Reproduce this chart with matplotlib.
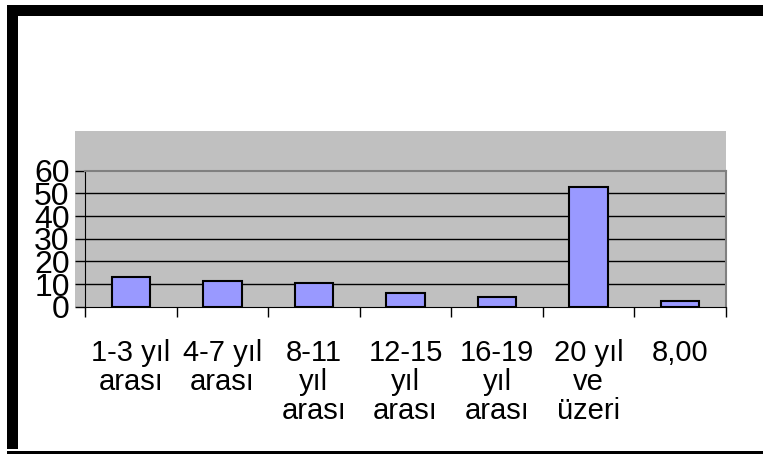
import matplotlib.pyplot as plt
from matplotlib.patches import Rectangle

# data
categories = ["1-3 yıl\narası", "4-7 yıl\narası", "8-11\nyıl\narası",
              "12-15\nyıl\narası", "16-19\nyıl\narası", "20 yıl\nve\nüzeri", "8,00"]
values = [13.1, 11.3, 10.4, 6.0, 4.4, 52.9, 2.5]
yticks = [0, 10, 20, 30, 40, 50, 60]

plt.rcParams['font.family'] = ['Liberation Sans', 'DejaVu Sans']

W, H = 763, 454
fig = plt.figure(figsize=(W / 100, H / 100), dpi=100)

# thick black frame, cut off at the right and bottom edges
frame = dict(transform=fig.transFigure, facecolor='black', edgecolor='none', zorder=0)
fig.patches.append(Rectangle((7 / W, 5 / H), 11 / W, (H - 10) / H, **frame))      # left
fig.patches.append(Rectangle((7 / W, 1 - 16 / H), (W - 7) / W, 11 / H, **frame))  # top
fig.patches.append(Rectangle((7 / W, 0), (W - 7) / W, 3 / H, **frame))            # bottom

# grey plot-area background that reaches above the axes
fig.patches.append(Rectangle((75 / W, 1 - 307 / H), 651 / W, 176 / H,
                             transform=fig.transFigure, facecolor='#c0c0c0',
                             edgecolor='none', zorder=0))

ax = fig.add_axes([85 / W, 1 - 306.7 / H, 641 / W, 136 / H])
ax.set_zorder(2)
ax.set_facecolor('#c0c0c0')

x = range(len(values))
ax.bar(x, values, width=0.42, color='#9999ff', edgecolor='black', linewidth=1.5, zorder=3)

ax.set_xlim(-0.5, len(values) - 0.5)
ax.set_ylim(0, 60)
ax.set_yticks(yticks)
ax.set_yticklabels([str(v) for v in yticks], fontsize=23)
for v in yticks[1:-1]:
    ax.axhline(v, color='black', linewidth=1, zorder=1)

# category boundaries get the tick marks, labels sit in between
ax.set_xticks([i - 0.5 for i in range(len(values) + 1)])
ax.set_xticklabels([])
ax.set_xticks(list(x), minor=True)
ax.set_xticklabels(categories, minor=True, fontsize=21, linespacing=1.05, va='top')
ax.tick_params(axis='x', which='major', length=7, width=1, color='black', direction='out')
ax.tick_params(axis='x', which='minor', length=0, pad=23)
ax.tick_params(axis='y', length=7, width=1, pad=4, direction='out')

ax.spines['top'].set_color('#808080')
ax.spines['right'].set_color('#808080')
ax.spines['top'].set_linewidth(1.5)
ax.spines['right'].set_linewidth(1.5)
ax.spines['left'].set_color('black')
ax.spines['bottom'].set_color('black')

fig.savefig('out.png', dpi=100)
